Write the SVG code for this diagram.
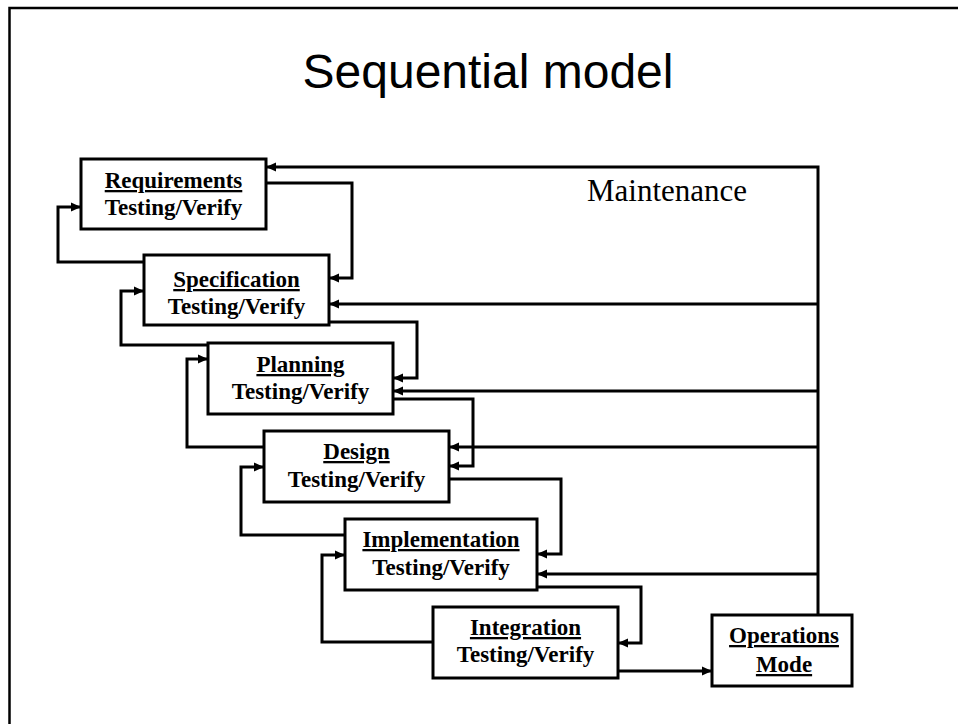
<svg xmlns="http://www.w3.org/2000/svg" width="958" height="724" viewBox="0 0 958 724">
  <style>
    .box { fill: #fff; stroke: #000; stroke-width: 3; }
    .lbl { font-family: "Liberation Serif", "Times New Roman", serif; font-weight: bold; font-size: 23px; text-anchor: middle; fill: #000; }
    .u { text-decoration: underline; }
    .wire { fill: none; stroke: #000; stroke-width: 3; stroke-linejoin: miter; }
    .arrow { marker-end: url(#head); }
  </style>
  <defs>
    <marker id="head" viewBox="0 0 10 10" refX="9" refY="5" markerWidth="10" markerHeight="10" markerUnits="userSpaceOnUse" orient="auto">
      <path d="M0,0.5 L10,5 L0,9.5 Z" fill="#000"/>
    </marker>
  </defs>

  <rect width="958" height="724" fill="#fff"/>
  <!-- page frame -->
  <path d="M9.5,724 V8 H958" fill="none" stroke="#000" stroke-width="2.5"/>

  <text x="488" y="88" font-family="Liberation Sans, Arial, sans-serif" font-size="48" text-anchor="middle" fill="#000">Sequential model</text>
  <text x="667" y="201" font-family="Liberation Serif, Times New Roman, serif" font-size="31" text-anchor="middle" fill="#000">Maintenance</text>

  <g id="connectors">
    <!-- maintenance feedback bus -->
    <path class="wire arrow" d="M818,615 V167 H267"/>
    <path class="wire arrow" d="M818,304 H330"/>
    <path class="wire arrow" d="M818,391 H394"/>
    <path class="wire arrow" d="M818,447 H450"/>
    <path class="wire arrow" d="M818,574 H538"/>
    <!-- forward flow -->
    <path class="wire arrow" d="M266,183 H352 V278 H330"/>
    <path class="wire arrow" d="M329,322 H417 V378 H394"/>
    <path class="wire arrow" d="M393,399 H473 V466 H450"/>
    <path class="wire arrow" d="M449,479 H561 V554 H538"/>
    <path class="wire arrow" d="M537,587 H641 V643 H619"/>
    <path class="wire arrow" d="M618,671 H711"/>
    <!-- backward flow -->
    <path class="wire arrow" d="M144,262 H58 V207 H80"/>
    <path class="wire arrow" d="M208,345 H121 V291 H143"/>
    <path class="wire arrow" d="M264,447 H187 V359 H207"/>
    <path class="wire arrow" d="M345,535 H241 V467 H263"/>
    <path class="wire arrow" d="M433,642 H322 V555 H344"/>
  </g>

  <g id="requirements">
    <rect class="box" x="81" y="159" width="185" height="70"/>
    <text class="lbl u" x="173.5" y="188">Requirements</text>
    <text class="lbl" x="173.5" y="215">Testing/Verify</text>
  </g>
  <g id="specification">
    <rect class="box" x="144" y="255" width="185" height="70"/>
    <text class="lbl u" x="236.5" y="287">Specification</text>
    <text class="lbl" x="236.5" y="314">Testing/Verify</text>
  </g>
  <g id="planning">
    <rect class="box" x="208" y="343" width="185" height="71"/>
    <text class="lbl u" x="300.5" y="372">Planning</text>
    <text class="lbl" x="300.5" y="399">Testing/Verify</text>
  </g>
  <g id="design">
    <rect class="box" x="264" y="431" width="185" height="71"/>
    <text class="lbl u" x="356.5" y="459">Design</text>
    <text class="lbl" x="356.5" y="487">Testing/Verify</text>
  </g>
  <g id="implementation">
    <rect class="box" x="345" y="519" width="192" height="71"/>
    <text class="lbl u" x="441" y="547">Implementation</text>
    <text class="lbl" x="441" y="575">Testing/Verify</text>
  </g>
  <g id="integration">
    <rect class="box" x="433" y="607" width="185" height="71"/>
    <text class="lbl u" x="525.5" y="635">Integration</text>
    <text class="lbl" x="525.5" y="662">Testing/Verify</text>
  </g>
  <g id="operations">
    <rect class="box" x="712" y="615" width="140" height="71"/>
    <text class="lbl u" x="784" y="643">Operations</text>
    <text class="lbl u" x="784" y="672">Mode</text>
  </g>
</svg>
